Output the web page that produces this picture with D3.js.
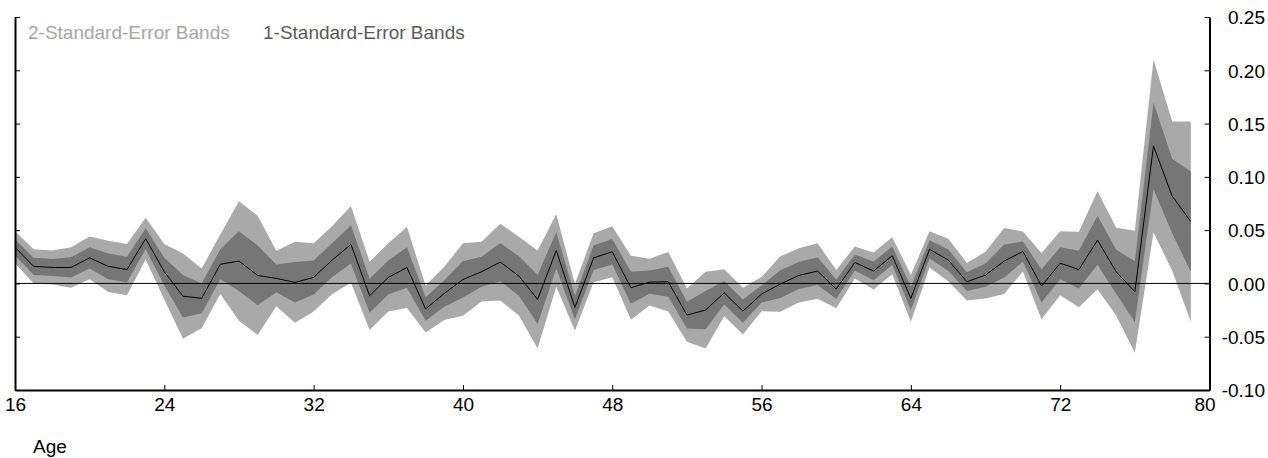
<!DOCTYPE html>
<html>
<head>
<meta charset="utf-8">
<script src="https://cdn.jsdelivr.net/npm/d3@7/dist/d3.min.js"></script>
<style>
  html, body { margin: 0; padding: 0; background: #fff; }
  svg { display: block; font-family: "Liberation Sans", Arial, sans-serif; }
</style>
</head>
<body>
<svg id="chart" width="1268" height="458"></svg>
<script>
const ages = [16,17,18,19,20,21,22,23,24,25,26,27,28,29,30,31,32,33,34,35,36,37,38,39,40,41,42,43,44,45,46,47,
              48,49,50,51,52,53,54,55,56,57,58,59,60,61,62,63,64,65,66,67,68,69,70,71,72,73,74,75,76,77,78,79];
const estimate = [0.034,0.016,0.015,0.015,0.024,0.016,0.013,0.042,0.011,-0.012,-0.014,0.018,0.021,0.0075,0.0047,0.001,
                  0.0056,0.022,0.0366,-0.0116,0.0056,0.015,-0.024,-0.0094,0.0037,0.011,0.020,0.0069,-0.015,0.031,-0.0225,0.024,
                  0.0297,-0.004,0.0012,0.0016,-0.0297,-0.025,-0.0088,-0.026,-0.010,-0.0006,0.0075,0.0116,-0.0053,0.0197,0.0116,0.026,
                  -0.014,0.032,0.022,0.0016,0.0078,0.021,0.030,-0.0025,0.019,0.013,0.0406,0.011,-0.0078,0.129,0.082,0.058];
const stdError = [0.0075,0.008,0.008,0.0095,0.010,0.012,0.012,0.0098,0.013,0.020,0.014,0.014,0.028,0.028,0.013,0.019,
                  0.016,0.016,0.018,0.016,0.016,0.019,0.011,0.0125,0.017,0.014,0.018,0.0185,0.023,0.017,0.011,0.0115,
                  0.012,0.015,0.011,0.014,0.0125,0.018,0.011,0.011,0.008,0.013,0.0127,0.013,0.009,0.0075,0.0087,0.0087,
                  0.011,0.0085,0.010,0.0088,0.011,0.0155,0.0094,0.0155,0.015,0.0177,0.023,0.0206,0.0286,0.0406,0.035,0.047];
const xTicks = [16,24,32,40,48,56,64,72,80];
const yTicks = [-0.10,-0.05,0.00,0.05,0.10,0.15,0.20,0.25];
const legendLabels = ["2-Standard-Error Bands","1-Standard-Error Bands"];
const xLabel = "Age";

const data = ages.map((a,i) => ({age:a, est:estimate[i], se:stdError[i]}));

const FS = 19;
const svg = d3.select("#chart");
const x = d3.scaleLinear().domain([16,80]).range([15,1209.5]);
const y = d3.scaleLinear().domain([-0.10,0.25]).range([390,17]);

const light = "#a9a9a9", dark = "#767676";

svg.append("path").datum(data)
  .attr("fill", light)
  .attr("d", d3.area().x(d=>x(d.age)).y0(d=>y(d.est-2*d.se)).y1(d=>y(d.est+2*d.se)));
svg.append("path").datum(data)
  .attr("fill", dark)
  .attr("d", d3.area().x(d=>x(d.age)).y0(d=>y(d.est-d.se)).y1(d=>y(d.est+d.se)));

svg.append("line")
  .attr("x1", x(16)).attr("x2", x(80)).attr("y1", y(0)).attr("y2", y(0))
  .attr("stroke", "#000").attr("stroke-width", 1);

svg.append("path").datum(data)
  .attr("fill", "none").attr("stroke", "#000").attr("stroke-width", 1)
  .attr("d", d3.line().x(d=>x(d.age)).y(d=>y(d.est)));

// left axis (ticks inward, no labels)
const gl = svg.append("g").attr("transform", `translate(${x(16)},0)`)
  .call(d3.axisRight(y).tickValues(yTicks).tickSizeInner(5).tickSizeOuter(0).tickFormat(""));
// right axis
const gr = svg.append("g").attr("transform", `translate(${x(80)},0)`)
  .call(d3.axisRight(y).tickValues(yTicks).tickSizeInner(-5).tickSizeOuter(0).tickFormat(d => d.toFixed(2)));
gr.selectAll("text").attr("x", 55.5).attr("text-anchor", "end").attr("dy", "0.36em");
// bottom axis
const gb = svg.append("g").attr("transform", `translate(0,${y(-0.10)})`)
  .call(d3.axisBottom(x).tickValues(xTicks).tickSizeInner(-5).tickSizeOuter(0).tickPadding(8).tickFormat(d => String(d)));
gb.selectAll("text").filter(d => d === 80).attr("x", -5);

[gl, gr, gb].forEach(g => {
  g.select(".domain").attr("stroke", "#000").attr("stroke-width", 2);
  g.selectAll(".tick line").attr("stroke", "#000").attr("stroke-width", 1);
  g.selectAll("text").attr("fill", "#000").attr("font-size", FS).attr("font-family", "Liberation Sans, Arial, sans-serif");
});

svg.append("text").attr("x", 28).attr("y", 39).attr("font-size", FS).attr("fill", "#a6a6a6").text(legendLabels[0]);
svg.append("text").attr("x", 263).attr("y", 39).attr("font-size", FS).attr("fill", "#5a5a5a").text(legendLabels[1]);

svg.append("text").attr("x", 33).attr("y", 453).attr("font-size", FS).attr("fill", "#000").text(xLabel);
</script>
</body>
</html>
